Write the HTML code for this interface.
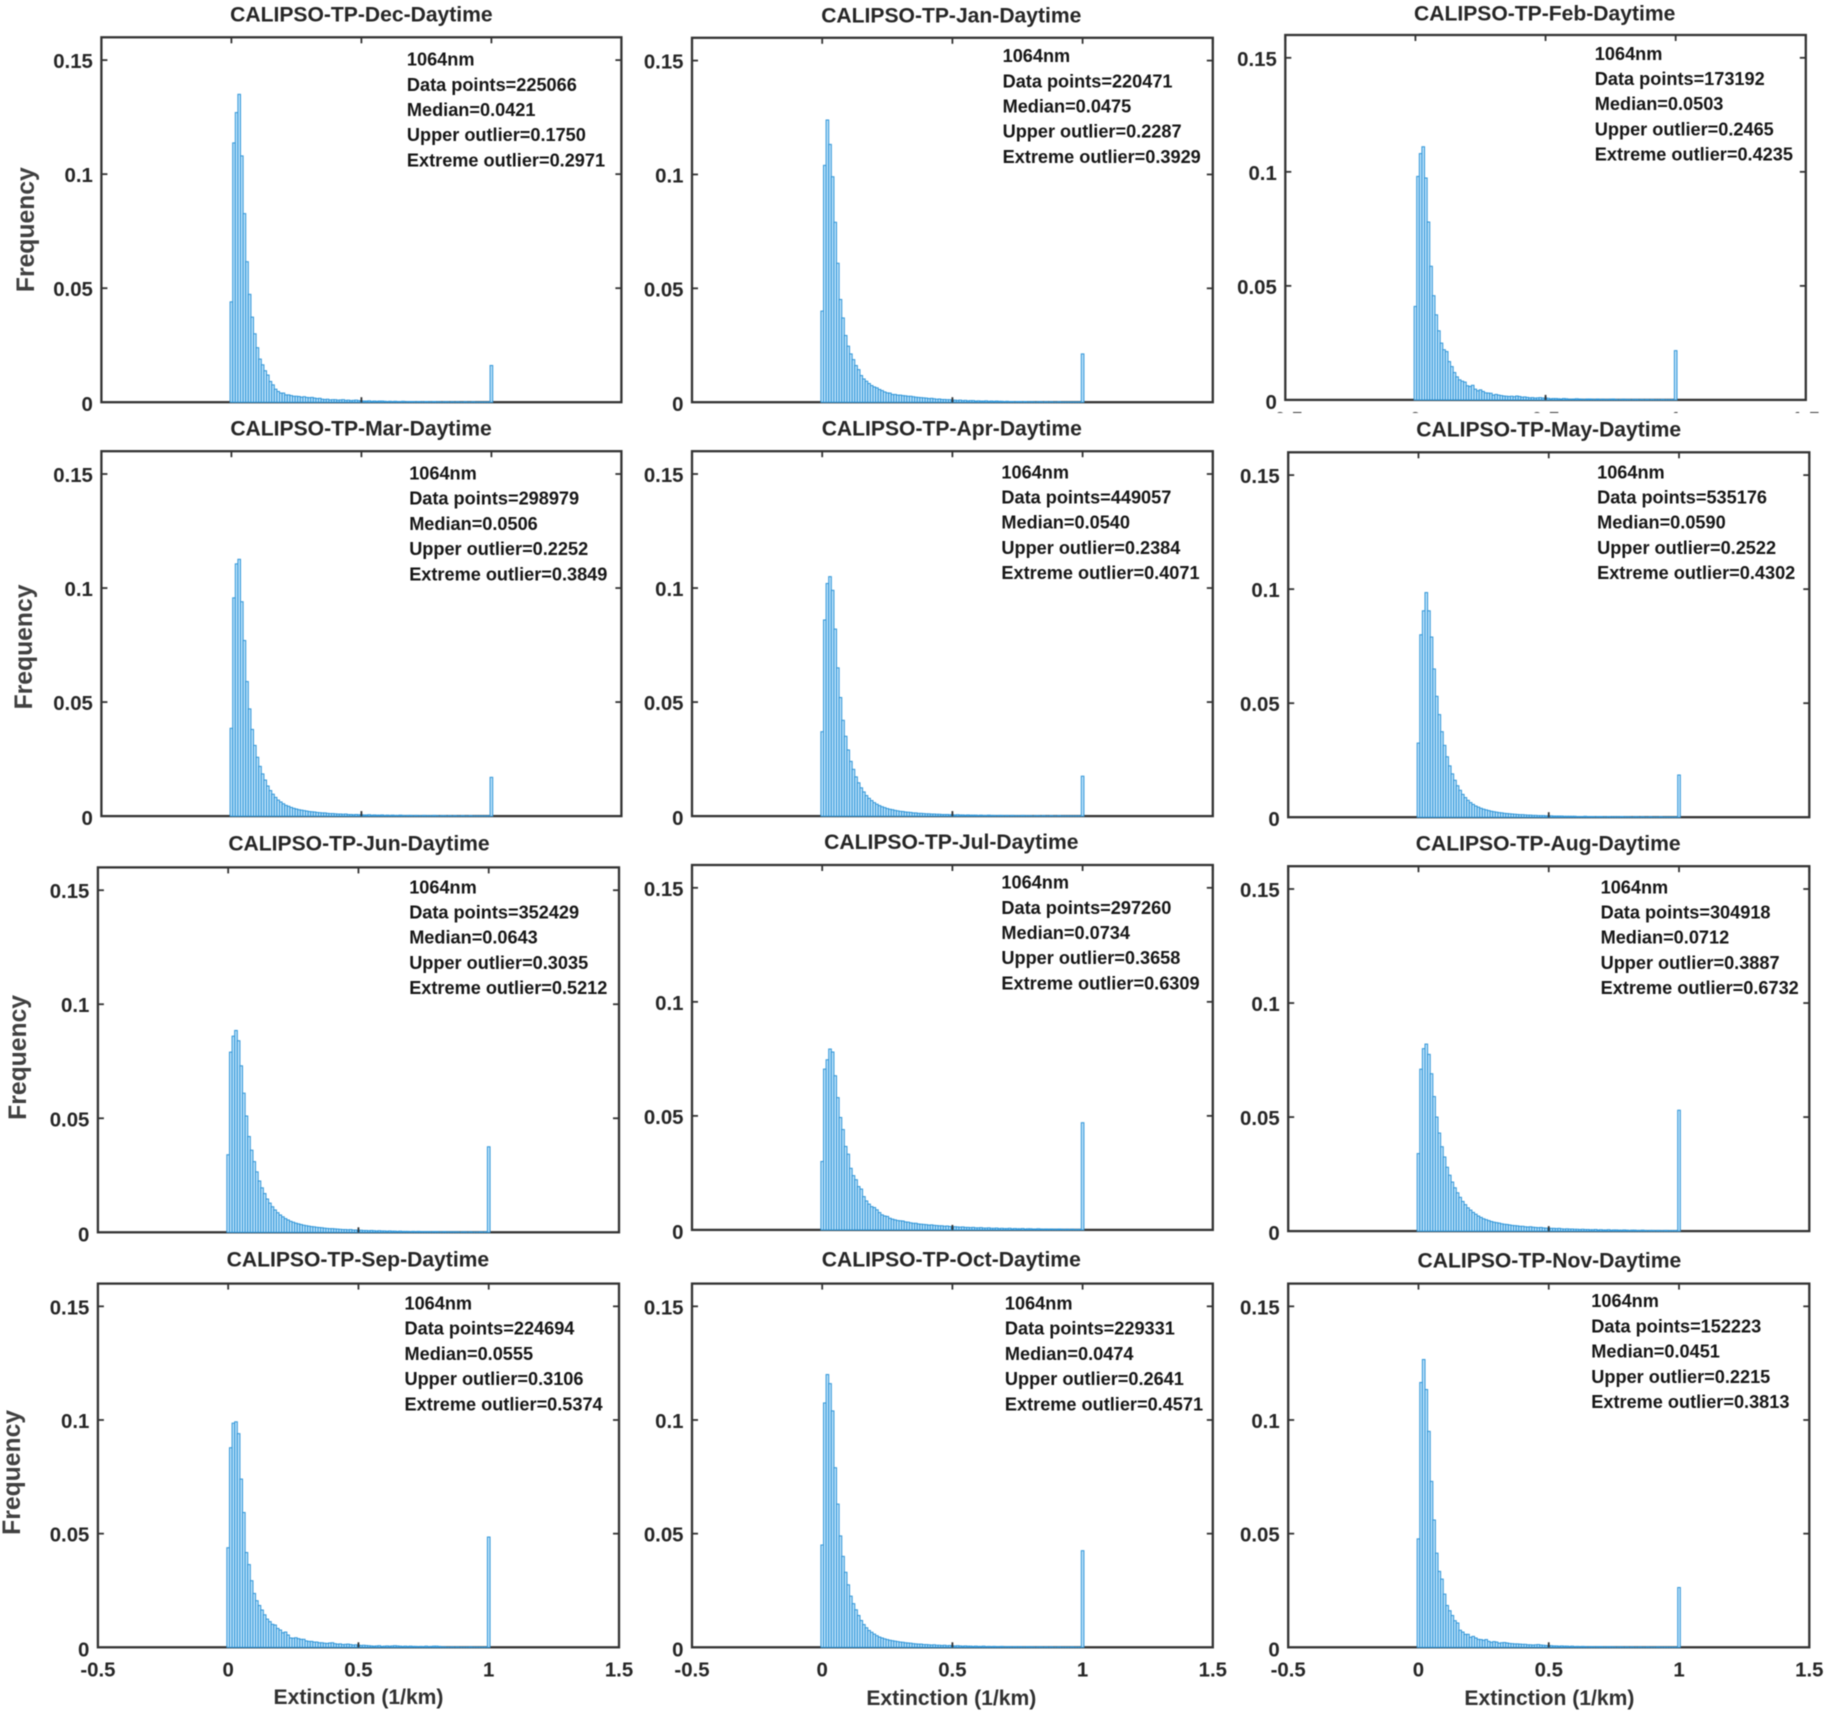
<!DOCTYPE html>
<html lang="en">
<head>
<meta charset="utf-8">
<title>CALIPSO-TP Daytime extinction histograms</title>
<style>
html,body{margin:0;padding:0;background:#fff;}
svg{display:block;filter:blur(0.4px);}
text{font-family:"Liberation Sans",Arial,sans-serif;font-weight:bold;}
.title{font-size:21.1px;fill:#262626;text-anchor:middle;}
.note{font-size:18.15px;fill:#161616;}
.note text{transform:translateY(0.8px);}
.ylab{font-size:24.7px;fill:#404040;text-anchor:middle;}
.xlab{font-size:21.1px;fill:#303030;text-anchor:middle;}
.tick{font-size:20.4px;fill:#262626;}
</style>
</head>
<body>
<svg id="chart" width="1828" height="1712" viewBox="0 0 1828 1712" xmlns="http://www.w3.org/2000/svg">
<rect width="1828" height="1712" fill="#fff"/>
<g id="panels"></g>

<text class="title" x="361.4" y="21.5">CALIPSO-TP-Dec-Daytime</text>
<text class="title" x="951.3" y="22.7">CALIPSO-TP-Jan-Daytime</text>
<text class="title" x="1544.7" y="20.3">CALIPSO-TP-Feb-Daytime</text>
<text class="title" x="361" y="435.4">CALIPSO-TP-Mar-Daytime</text>
<text class="title" x="951.8" y="435.4">CALIPSO-TP-Apr-Daytime</text>
<text class="title" x="1548.7" y="436.5">CALIPSO-TP-May-Daytime</text>
<text class="title" x="359" y="850.4">CALIPSO-TP-Jun-Daytime</text>
<text class="title" x="951.3" y="849.2">CALIPSO-TP-Jul-Daytime</text>
<text class="title" x="1548.2" y="850.4">CALIPSO-TP-Aug-Daytime</text>
<text class="title" x="357.9" y="1266.5">CALIPSO-TP-Sep-Daytime</text>
<text class="title" x="951.3" y="1266.5">CALIPSO-TP-Oct-Daytime</text>
<text class="title" x="1549.4" y="1267.7">CALIPSO-TP-Nov-Daytime</text>

<g class="note" transform="translate(406.9,64.8)"><text>1064nm</text><text y="25.2">Data points=225066</text><text y="50.4">Median=0.0421</text><text y="75.6">Upper outlier=0.1750</text><text y="100.8">Extreme outlier=0.2971</text></g>
<g class="note" transform="translate(1002.6,61.3)"><text>1064nm</text><text y="25.2">Data points=220471</text><text y="50.4">Median=0.0475</text><text y="75.6">Upper outlier=0.2287</text><text y="100.8">Extreme outlier=0.3929</text></g>
<g class="note" transform="translate(1594.8,59)"><text>1064nm</text><text y="25.2">Data points=173192</text><text y="50.4">Median=0.0503</text><text y="75.6">Upper outlier=0.2465</text><text y="100.8">Extreme outlier=0.4235</text></g>
<g class="note" transform="translate(409.2,478.7)"><text>1064nm</text><text y="25.2">Data points=298979</text><text y="50.4">Median=0.0506</text><text y="75.6">Upper outlier=0.2252</text><text y="100.8">Extreme outlier=0.3849</text></g>
<g class="note" transform="translate(1001.4,477.5)"><text>1064nm</text><text y="25.2">Data points=449057</text><text y="50.4">Median=0.0540</text><text y="75.6">Upper outlier=0.2384</text><text y="100.8">Extreme outlier=0.4071</text></g>
<g class="note" transform="translate(1597.1,477.5)"><text>1064nm</text><text y="25.2">Data points=535176</text><text y="50.4">Median=0.0590</text><text y="75.6">Upper outlier=0.2522</text><text y="100.8">Extreme outlier=0.4302</text></g>
<g class="note" transform="translate(409.2,892.5)"><text>1064nm</text><text y="25.2">Data points=352429</text><text y="50.4">Median=0.0643</text><text y="75.6">Upper outlier=0.3035</text><text y="100.8">Extreme outlier=0.5212</text></g>
<g class="note" transform="translate(1001.4,887.8)"><text>1064nm</text><text y="25.2">Data points=297260</text><text y="50.4">Median=0.0734</text><text y="75.6">Upper outlier=0.3658</text><text y="100.8">Extreme outlier=0.6309</text></g>
<g class="note" transform="translate(1600.6,892.5)"><text>1064nm</text><text y="25.2">Data points=304918</text><text y="50.4">Median=0.0712</text><text y="75.6">Upper outlier=0.3887</text><text y="100.8">Extreme outlier=0.6732</text></g>
<g class="note" transform="translate(404.5,1308.7)"><text>1064nm</text><text y="25.2">Data points=224694</text><text y="50.4">Median=0.0555</text><text y="75.6">Upper outlier=0.3106</text><text y="100.8">Extreme outlier=0.5374</text></g>
<g class="note" transform="translate(1004.9,1308.7)"><text>1064nm</text><text y="25.2">Data points=229331</text><text y="50.4">Median=0.0474</text><text y="75.6">Upper outlier=0.2641</text><text y="100.8">Extreme outlier=0.4571</text></g>
<g class="note" transform="translate(1591.3,1306.4)"><text>1064nm</text><text y="25.2">Data points=152223</text><text y="50.4">Median=0.0451</text><text y="75.6">Upper outlier=0.2215</text><text y="100.8">Extreme outlier=0.3813</text></g>

<text class="ylab" transform="translate(34,229.7) rotate(-90)">Frequency</text>
<text class="ylab" transform="translate(31.8,647) rotate(-90)">Frequency</text>
<text class="ylab" transform="translate(26,1057.4) rotate(-90)">Frequency</text>
<text class="ylab" transform="translate(20.2,1472.4) rotate(-90)">Frequency</text>

<text class="xlab" x="358.5" y="1704">Extinction (1/km)</text>
<text class="xlab" x="951.3" y="1705">Extinction (1/km)</text>
<text class="xlab" x="1549.4" y="1705">Extinction (1/km)</text>
</svg>

<script>
const xTickValues = [-0.5, 0, 0.5, 1, 1.5];
const xTickLabels = ['-0.5', '0', '0.5', '1', '1.5'];
const yTickValues = [0, 0.05, 0.1, 0.15];
const yTickLabels = ['0', '0.05', '0.1', '0.15'];
const binCenters = [0,.01,.02,.03,.04,.05,.06,.07,.08,.09,.1,.11,.12,.13,.14,.15,.16,.17,.18,.19,.2,.21,.22,.23,.24,.25,.26,.27,.28,.29,.3,.31,.32,.33,.34,.35,.36,.37,.38,.39,.4,.41,.42,.43,.44,.45,.46,.47,.48,.49,.5,.51,.52,.53,.54,.55,.56,.57,.58,.59,.6,.61,.62,.63,.64,.65,.66,.67,.68,.69,.7,.71,.72,.73,.74,.75,.76,.77,.78,.79,.8,.81,.82,.83,.84,.85,.86,.87,.88,.89,.9,.91,.92,.93,.94,.95,.96,.97,.98,.99,1];
const months = ['dec','jan','feb','mar','apr','may','jun','jul','aug','sep','oct','nov'];

const freqDec = [.0440,.1137,.1270,.1350,.1080,.0827,.0616,.0473,.0373,.0300,
.0239,.0189,.0164,.0138,.0119,.0091,.0076,.0057,.0047,.0040,
.0040,.0032,.0032,.0029,.0026,.0026,.0025,.0022,.0024,.0021,
.0020,.0021,.0018,.0016,.0017,.0013,.0012,.0013,.0010,.0011,
.0011,.0009,.0010,.0011,.0008,.0009,.0007,.0008,.0009,.0007,
.0006,.0005,.0005,.0006,.0004,.0005,.0004,.0005,.0005,.0004,
.0003,.0004,.0003,.0004,.0003,.0003,.0004,.0002,.0003,.0003,
.0003,.0002,.0003,.0002,.0002,.0003,.0002,.0002,.0003,.0002,
.0002,.0001,.0002,.0002,.0001,.0002,.0001,.0002,.0001,.0001,
.0002,.0001,.0001,.0002,.0001,.0001,.0001,.0001,.0001,.0001,.0161];
const freqJan = [.0400,.1040,.1239,.1132,.0990,.0790,.0610,.0451,.0370,.0293,
.0246,.0212,.0187,.0161,.0143,.0117,.0102,.0092,.0082,.0073,
.0067,.0063,.0056,.0051,.0045,.0041,.0040,.0034,.0034,.0031,
.0031,.0029,.0028,.0026,.0026,.0024,.0022,.0021,.0020,.0019,
.0018,.0016,.0017,.0015,.0013,.0014,.0012,.0012,.0011,.0011,
.0010,.0009,.0008,.0009,.0007,.0008,.0006,.0007,.0007,.0005,
.0006,.0005,.0005,.0006,.0004,.0005,.0004,.0005,.0004,.0004,
.0003,.0004,.0003,.0003,.0002,.0003,.0003,.0002,.0003,.0002,
.0002,.0002,.0001,.0002,.0002,.0001,.0002,.0001,.0002,.0001,
.0001,.0002,.0001,.0001,.0001,.0001,.0001,.0001,.0001,.0001,.0212];
const freqFeb = [.0410,.0980,.1080,.1110,.0973,.0780,.0586,.0457,.0373,.0303,
.0249,.0220,.0212,.0168,.0146,.0120,.0101,.0088,.0082,.0078,
.0062,.0059,.0064,.0047,.0040,.0044,.0037,.0031,.0030,.0029,
.0021,.0024,.0021,.0019,.0017,.0016,.0015,.0016,.0014,.0017,
.0015,.0012,.0013,.0011,.0009,.0010,.0008,.0009,.0010,.0008,
.0009,.0007,.0005,.0006,.0006,.0005,.0004,.0006,.0005,.0003,
.0003,.0004,.0005,.0004,.0003,.0002,.0004,.0004,.0003,.0002,
.0004,.0002,.0003,.0002,.0002,.0003,.0004,.0002,.0001,.0002,
.0003,.0002,.0002,.0001,.0002,.0002,.0001,.0002,.0001,.0002,
.0001,.0002,.0001,.0001,.0001,.0002,.0001,.0001,.0001,.0001,.0216];
const freqMar = [.0385,.0957,.1106,.1126,.0940,.0770,.0590,.0470,.0380,.0310,
.0258,.0218,.0185,.0158,.0132,.0112,.0096,.0082,.0070,.0062,
.0054,.0047,.0043,.0038,.0034,.0031,.0028,.0026,.0024,.0022,
.0020,.0019,.0018,.0016,.0015,.0014,.0014,.0012,.0011,.0011,
.0010,.0009,.0009,.0008,.0009,.0007,.0007,.0006,.0007,.0006,
.0006,.0005,.0005,.0006,.0004,.0005,.0004,.0004,.0005,.0003,
.0004,.0003,.0004,.0003,.0003,.0004,.0003,.0002,.0003,.0003,
.0002,.0003,.0002,.0002,.0003,.0002,.0002,.0002,.0003,.0002,
.0001,.0002,.0002,.0001,.0002,.0001,.0002,.0001,.0001,.0002,
.0001,.0001,.0002,.0001,.0001,.0001,.0001,.0001,.0001,.0001,.0170];
const freqApr = [.0370,.0860,.1020,.1050,.0990,.0820,.0650,.0520,.0420,.0350,
.0290,.0240,.0205,.0172,.0146,.0124,.0106,.0090,.0078,.0068,
.0059,.0052,.0046,.0041,.0037,.0033,.0030,.0028,.0025,.0023,
.0021,.0020,.0018,.0017,.0016,.0014,.0014,.0012,.0012,.0011,
.0010,.0010,.0009,.0009,.0008,.0008,.0007,.0007,.0007,.0006,
.0006,.0005,.0006,.0005,.0005,.0004,.0005,.0004,.0004,.0004,
.0003,.0004,.0003,.0003,.0004,.0003,.0003,.0002,.0003,.0003,
.0002,.0003,.0002,.0003,.0002,.0002,.0002,.0003,.0002,.0002,
.0002,.0001,.0002,.0002,.0001,.0002,.0001,.0001,.0002,.0001,
.0001,.0002,.0001,.0001,.0001,.0001,.0001,.0001,.0001,.0001,.0175];
const freqMay = [.0325,.0800,.0905,.0985,.0905,.0790,.0650,.0530,.0450,.0375,
.0315,.0265,.0225,.0190,.0162,.0138,.0118,.0100,.0086,.0074,
.0064,.0056,.0049,.0044,.0039,.0035,.0032,.0029,.0026,.0024,
.0022,.0020,.0019,.0017,.0016,.0015,.0014,.0013,.0012,.0011,
.0011,.0010,.0009,.0009,.0008,.0008,.0007,.0007,.0007,.0006,
.0006,.0006,.0005,.0005,.0005,.0005,.0004,.0004,.0004,.0004,
.0004,.0003,.0003,.0003,.0004,.0003,.0003,.0003,.0002,.0003,
.0003,.0002,.0002,.0003,.0002,.0002,.0002,.0002,.0003,.0002,
.0002,.0002,.0001,.0002,.0002,.0001,.0002,.0001,.0001,.0002,
.0001,.0001,.0001,.0002,.0001,.0001,.0001,.0001,.0001,.0001,.0185];
const freqJun = [.0340,.0790,.0860,.0885,.0840,.0730,.0610,.0510,.0420,.0360,
.0310,.0265,.0225,.0195,.0170,.0146,.0128,.0112,.0098,.0086,
.0076,.0068,.0060,.0054,.0048,.0044,.0040,.0037,.0034,.0031,
.0029,.0027,.0025,.0024,.0022,.0021,.0020,.0018,.0017,.0016,
.0016,.0015,.0014,.0013,.0012,.0012,.0011,.0012,.0010,.0010,
.0009,.0009,.0008,.0008,.0007,.0008,.0007,.0006,.0007,.0006,
.0006,.0005,.0006,.0005,.0005,.0004,.0005,.0004,.0004,.0004,
.0003,.0004,.0003,.0004,.0003,.0003,.0003,.0003,.0002,.0003,
.0003,.0002,.0002,.0003,.0002,.0002,.0002,.0002,.0002,.0001,
.0002,.0002,.0001,.0002,.0001,.0001,.0001,.0002,.0001,.0002,.0375];
const freqJul = [.0300,.0705,.0746,.0793,.0780,.0676,.0580,.0493,.0440,.0366,
.0332,.0270,.0238,.0220,.0190,.0179,.0146,.0127,.0113,.0102,
.0098,.0088,.0076,.0066,.0061,.0059,.0051,.0047,.0044,.0041,
.0040,.0039,.0035,.0034,.0031,.0029,.0029,.0026,.0025,.0024,
.0023,.0021,.0022,.0020,.0019,.0018,.0018,.0016,.0017,.0015,
.0014,.0014,.0013,.0012,.0013,.0011,.0011,.0010,.0011,.0009,
.0009,.0010,.0008,.0008,.0009,.0007,.0007,.0008,.0006,.0007,
.0006,.0006,.0007,.0005,.0006,.0005,.0005,.0006,.0004,.0005,
.0005,.0004,.0004,.0005,.0004,.0003,.0004,.0003,.0004,.0003,
.0003,.0004,.0003,.0002,.0003,.0002,.0003,.0002,.0002,.0002,.0470];
const freqAug = [.0340,.0710,.0800,.0820,.0775,.0690,.0590,.0500,.0430,.0370,
.0325,.0280,.0245,.0215,.0190,.0168,.0148,.0130,.0116,.0102,
.0092,.0082,.0074,.0066,.0060,.0054,.0050,.0046,.0042,.0039,
.0037,.0035,.0032,.0030,.0029,.0027,.0025,.0024,.0023,.0021,
.0021,.0019,.0018,.0019,.0017,.0016,.0015,.0016,.0014,.0013,
.0013,.0012,.0012,.0011,.0012,.0010,.0009,.0010,.0009,.0009,
.0008,.0008,.0007,.0008,.0007,.0007,.0006,.0006,.0007,.0005,
.0006,.0005,.0005,.0006,.0004,.0005,.0005,.0004,.0004,.0005,
.0004,.0003,.0004,.0004,.0003,.0003,.0004,.0003,.0002,.0003,
.0003,.0002,.0003,.0002,.0002,.0003,.0002,.0002,.0002,.0002,.0530];
const freqSep = [.0438,.0878,.0986,.0992,.0940,.0740,.0593,.0417,.0364,.0293,
.0237,.0205,.0184,.0164,.0143,.0124,.0113,.0101,.0098,.0083,
.0076,.0064,.0067,.0054,.0041,.0040,.0042,.0038,.0035,.0035,
.0028,.0026,.0026,.0023,.0023,.0020,.0020,.0018,.0017,.0019,
.0020,.0016,.0014,.0015,.0012,.0013,.0014,.0012,.0010,.0011,
.0010,.0008,.0009,.0008,.0007,.0006,.0005,.0006,.0007,.0004,
.0005,.0006,.0005,.0006,.0007,.0006,.0005,.0004,.0005,.0004,
.0005,.0004,.0004,.0003,.0004,.0003,.0005,.0003,.0004,.0005,
.0005,.0004,.0002,.0002,.0001,.0001,.0002,.0001,.0002,.0001,
.0001,.0001,.0001,.0002,.0001,.0001,.0001,.0001,.0001,.0001,.0485];
const freqOct = [.0450,.1075,.1200,.1160,.1040,.0790,.0630,.0490,.0400,.0330,
.0275,.0225,.0192,.0165,.0140,.0118,.0100,.0086,.0074,.0066,
.0058,.0051,.0045,.0041,.0037,.0034,.0031,.0029,.0027,.0025,
.0023,.0022,.0020,.0019,.0018,.0016,.0015,.0014,.0014,.0012,
.0012,.0011,.0010,.0011,.0009,.0009,.0008,.0009,.0007,.0008,
.0007,.0006,.0007,.0006,.0005,.0006,.0005,.0005,.0004,.0005,
.0004,.0004,.0005,.0003,.0004,.0003,.0004,.0003,.0003,.0004,
.0002,.0003,.0003,.0002,.0003,.0002,.0003,.0002,.0002,.0003,
.0002,.0002,.0001,.0002,.0002,.0001,.0002,.0001,.0002,.0001,
.0001,.0002,.0001,.0001,.0001,.0001,.0002,.0001,.0001,.0001,.0425];
const freqNov = [.0477,.1165,.1266,.1134,.0950,.0730,.0560,.0414,.0334,.0300,
.0234,.0184,.0161,.0140,.0117,.0107,.0075,.0067,.0057,.0057,
.0044,.0048,.0041,.0035,.0034,.0031,.0034,.0026,.0022,.0025,
.0023,.0018,.0020,.0021,.0019,.0017,.0016,.0015,.0015,.0014,
.0013,.0013,.0011,.0011,.0010,.0011,.0012,.0010,.0009,.0008,
.0008,.0007,.0006,.0006,.0005,.0006,.0005,.0005,.0004,.0005,
.0003,.0004,.0003,.0004,.0003,.0002,.0003,.0003,.0002,.0003,
.0003,.0002,.0002,.0003,.0002,.0002,.0001,.0002,.0002,.0001,
.0002,.0001,.0002,.0001,.0001,.0002,.0001,.0001,.0002,.0001,
.0001,.0001,.0002,.0001,.0001,.0001,.0001,.0001,.0001,.0001,.0263];

const allFreq = [freqDec,freqJan,freqFeb,freqMar,freqApr,freqMay,freqJun,freqJul,freqAug,freqSep,freqOct,freqNov];

const frameLeft   = [101.4,692,1285.3,101.4,692,1288.2,97.9,692,1288.2,97.9,692,1288.2];
const frameRight  = [621.4,1212.8,1805.8,621.4,1212.8,1809.3,619,1212.8,1809.3,619,1212.8,1809.3];
const frameTop    = [37.3,37.8,35,451.2,451.2,452.3,867.4,865,866.2,1283.6,1283.6,1283.6];
const frameBottom = [402.2,402.2,399.9,816.1,816.1,817.2,1232.3,1229.9,1231.1,1647.3,1647.3,1647.3];

const XMIN = -0.5, XMAX = 1.5, YMIN = 0, YMAX = 0.16, BIN = 0.01;
const NS = 'http://www.w3.org/2000/svg';
const root = document.getElementById('panels');

function mk(tag, parent, attrs){
  const el = document.createElementNS(NS, tag);
  for (const k in attrs) el.setAttribute(k, attrs[k]);
  parent.appendChild(el);
  return el;
}
function xScale(i, v){ return frameLeft[i] + (v - XMIN) / (XMAX - XMIN) * (frameRight[i] - frameLeft[i]); }
function yScale(i, v){ return frameBottom[i] - (v - YMIN) / (YMAX - YMIN) * (frameBottom[i] - frameTop[i]); }

months.forEach(function(m, i){
  const g = mk('g', root, {});
  
  

  const frame = mk('rect', g, {x:frameLeft[i], y:frameTop[i], width:frameRight[i]-frameLeft[i], height:frameBottom[i]-frameTop[i], fill:'#fff', stroke:'#333', 'stroke-width':2.3});
  
  

  const bars = mk('g', g, {fill:'#bfe3fa', stroke:'#2f95d8', 'stroke-width':1});
  
  
  allFreq[i].forEach(function(v, k){
    const c = binCenters[k];
    const x0 = xScale(i, c - BIN / 2), x1 = xScale(i, c + BIN / 2);
    const y0 = yScale(i, v), yb = yScale(i, 0);
    const r = mk('rect', bars, {x:x0, y:y0, width:x1-x0, height:yb-y0});
    
    
  });

  const ticks = mk('g', g, {stroke:'#333', 'stroke-width':1.8});
  
  
  xTickValues.forEach(function(v){
    const x = xScale(i, v);
    const a = mk('line', ticks, {x1:x, x2:x, y1:frameTop[i], y2:frameTop[i]+6});
    
    
    if (v === 0.5) {
      const b = mk('line', ticks, {x1:x, x2:x, y1:frameBottom[i], y2:frameBottom[i]-5});
      
      
    }
  });
  yTickValues.forEach(function(v, k){
    const y = yScale(i, v);
    if (v !== 0) {
      const a = mk('line', ticks, {x1:frameLeft[i], x2:frameLeft[i]+6, y1:y, y2:y});
      
      
      const b = mk('line', ticks, {x1:frameRight[i], x2:frameRight[i]-6, y1:y, y2:y});
      
      
    }
    const t = mk('text', g, {x:frameLeft[i]-8.5, y:y+(v===0?9:8), 'text-anchor':'end', class:'tick'});
    
    
    t.textContent = yTickLabels[k];
  });

  if (i >= 9) {
    xTickValues.forEach(function(v, k){
      const t = mk('text', g, {x:xScale(i, v), y:frameBottom[i]+29, 'text-anchor':'middle', class:'tick'});
      
      
      t.textContent = xTickLabels[k];
    });
  }
  if (m === 'feb') {
    /* the upper edge of the Feb tick labels peeks out above the next row */
    const cp = mk('clipPath', g, {id:'feb-clip'});
    mk('rect', cp, {x:frameLeft[i]-30, y:frameBottom[i]+9, width:frameRight[i]-frameLeft[i]+60, height:4});
    const cg = mk('g', g, {'clip-path':'url(#feb-clip)'});
    
    
    xTickValues.forEach(function(v, k){
      const t = mk('text', cg, {x:xScale(i, v), y:frameBottom[i]+26, 'text-anchor':'middle', class:'tick'});
      
      
      t.textContent = xTickLabels[k];
    });
  }
});
</script>
</body>
</html>
